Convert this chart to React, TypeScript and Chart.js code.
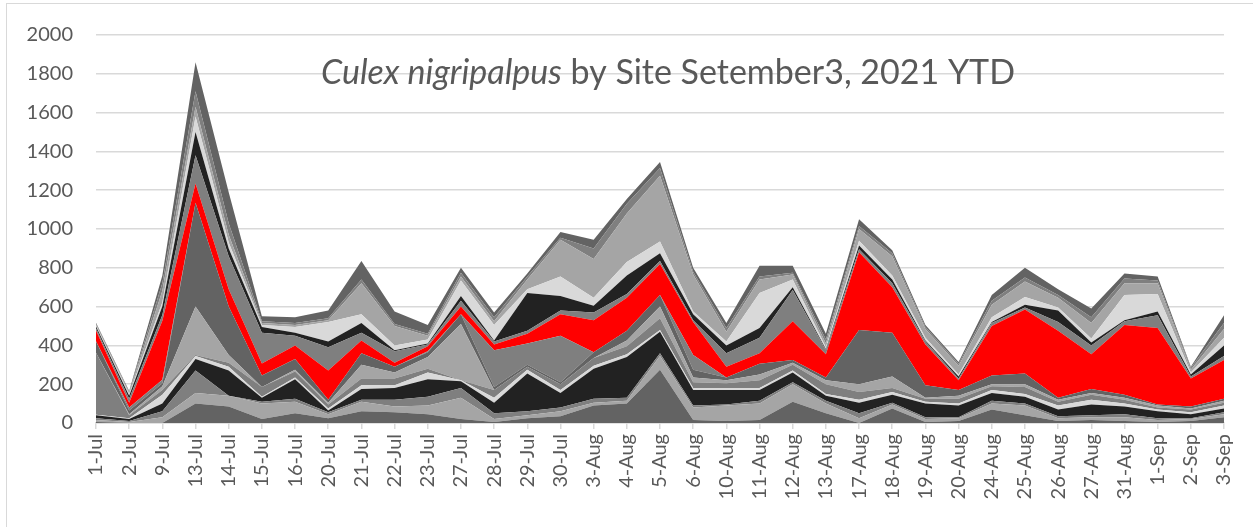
import React, { useEffect, useRef } from "react";
import { Chart, registerables } from "chart.js";

Chart.register(...registerables);

const labels = [
  "1-Jul", "2-Jul", "9-Jul", "13-Jul", "14-Jul", "15-Jul", "16-Jul", "20-Jul", "21-Jul", "22-Jul",
  "23-Jul", "27-Jul", "28-Jul", "29-Jul", "30-Jul", "3-Aug", "4-Aug", "5-Aug", "6-Aug", "10-Aug",
  "11-Aug", "12-Aug", "13-Aug", "17-Aug", "18-Aug", "19-Aug", "20-Aug", "24-Aug", "25-Aug", "26-Aug",
  "27-Aug", "31-Aug", "1-Sep", "2-Sep", "3-Sep",
];

const site01 = [5, 0, 0, 100, 85, 20, 50, 25, 60, 55, 45, 20, 5, 25, 35, 90, 100, 275, 15, 10, 15, 110, 50, 0, 75, 5, 10, 70, 40, 10, 15, 10, 5, 10, 30];
const site02 = [10, 5, 30, 55, 55, 80, 60, 20, 50, 30, 45, 110, 15, 15, 25, 15, 15, 70, 65, 80, 85, 90, 50, 25, 20, 15, 15, 30, 50, 15, 15, 20, 10, 10, 15];
const site03 = [10, 5, 30, 115, 0, 10, 15, 10, 10, 35, 45, 50, 30, 20, 20, 20, 15, 15, 10, 5, 15, 10, 15, 25, 10, 10, 5, 15, 10, 10, 10, 15, 10, 5, 10];
const site04 = [15, 10, 40, 60, 130, 20, 100, 10, 55, 60, 90, 35, 55, 195, 75, 155, 210, 110, 80, 75, 55, 50, 25, 55, 40, 70, 60, 40, 35, 35, 55, 40, 35, 20, 20];
const site05 = [2, 5, 45, 15, 20, 5, 10, 10, 20, 15, 35, 5, 25, 20, 15, 15, 15, 10, 10, 10, 10, 10, 10, 15, 15, 10, 10, 15, 15, 20, 25, 15, 10, 10, 15];
const site06 = [320, 15, 25, 5, 20, 50, 30, 20, 35, 35, 20, 0, 40, 15, 30, 40, 40, 60, 30, 25, 40, 30, 50, 40, 20, 15, 25, 20, 35, 20, 25, 20, 10, 15, 15];
const site07 = [0, 5, 20, 250, 40, 0, 10, 10, 70, 30, 60, 290, 0, 0, 0, 0, 30, 60, 25, 15, 30, 10, 20, 40, 60, 5, 15, 10, 15, 10, 10, 10, 10, 5, 10];
const site08 = [60, 20, 15, 535, 250, 60, 55, 15, 60, 30, 25, 50, 15, 10, 10, 30, 50, 60, 40, 15, 55, 15, 15, 280, 225, 65, 30, 45, 55, 10, 20, 15, 5, 10, 10];
const site09 = [0, 15, 18, 0, 0, 0, 0, 0, 0, 0, 5, 0, 190, 110, 240, 0, 0, 0, 75, 0, 0, 0, 0, 0, 0, 0, 0, 0, 0, 0, 0, 0, 0, 0, 0];
const site10 = [55, 25, 304, 100, 90, 62, 70, 150, 65, 20, 25, 40, 30, 50, 110, 165, 170, 160, 170, 55, 55, 200, 120, 400, 235, 210, 50, 255, 330, 345, 180, 360, 395, 145, 200];
const site11 = [10, 20, 30, 145, 170, 158, 50, 120, 40, 60, 10, 30, 15, 15, 20, 40, 20, 15, 10, 70, 80, 160, 20, 15, 20, 15, 10, 15, 10, 45, 45, 20, 65, 10, 20];
const site12 = [10, 15, 45, 120, 40, 30, 15, 30, 50, 5, 5, 25, 5, 195, 75, 35, 95, 40, 30, 40, 50, 15, 5, 20, 20, 5, 10, 5, 15, 60, 15, 5, 20, 10, 55];
const site13 = [5, 8, 20, 80, 30, 10, 30, 100, 45, 25, 20, 80, 80, 20, 100, 40, 70, 60, 15, 20, 180, 40, 10, 25, 20, 15, 10, 25, 40, 15, 20, 130, 90, 10, 40];
const site14 = [5, 8, 60, 50, 40, 10, 10, 10, 160, 100, 20, 20, 20, 50, 190, 200, 250, 340, 190, 50, 70, 25, 20, 60, 100, 45, 45, 65, 80, 50, 80, 60, 55, 15, 45];
const site15 = [5, 5, 40, 80, 60, 10, 10, 10, 20, 10, 10, 20, 20, 15, 10, 55, 50, 40, 15, 20, 15, 10, 20, 15, 15, 10, 10, 20, 20, 15, 30, 25, 15, 10, 30];
const site16 = [5, 4, 38, 150, 160, 25, 30, 40, 95, 65, 45, 25, 25, 15, 30, 45, 25, 30, 20, 25, 55, 35, 30, 35, 15, 10, 10, 30, 50, 30, 45, 25, 20, 5, 40];

const seriesList = [
  site01, site02, site03, site04, site05, site06, site07, site08,
  site09, site10, site11, site12, site13, site14, site15, site16,
];
const seriesNames = seriesList.map((_, i) => "Site " + (i + 1));
const seriesColors = [
  "#636363", "#a5a5a5", "#7f7f7f", "#222222", "#d9d9d9", "#7f7f7f", "#a5a5a5", "#636363",
  "#7f7f7f", "#ff0000", "#7f7f7f", "#222222", "#d9d9d9", "#a5a5a5", "#7f7f7f", "#636363",
];

const titleItalic = "Culex nigripalpus";
const titleRest = " by Site Setember3, 2021 YTD";

const FONT = "Lato, 'Open Sans', sans-serif";

const titlePlugin = {
  id: "overlayTitle",
  afterDraw(chart: any) {
    const ctx = chart.ctx;
    ctx.save();
    ctx.fillStyle = "#595959";
    ctx.textBaseline = "alphabetic";
    ctx.font = "italic 34px " + FONT;
    const w1 = ctx.measureText(titleItalic).width;
    ctx.font = "34px " + FONT;
    const w2 = ctx.measureText(titleRest).width;
    const start = 668 - (w1 + w2) / 2;
    ctx.font = "italic 34px " + FONT;
    ctx.fillText(titleItalic, start, 84);
    ctx.font = "34px " + FONT;
    ctx.fillText(titleRest, start + w1, 84);
    // outer chart border
    ctx.strokeStyle = "#d9d9d9";
    ctx.lineWidth = 1;
    ctx.strokeRect(6.5, 3.5, 1260, 540);
    ctx.restore();
  },
};

export default function App() {
  const ref = useRef<HTMLCanvasElement | null>(null);

  useEffect(() => {
    document.body.style.margin = "0";
    document.body.style.overflow = "hidden";
    const canvas = ref.current;
    if (!canvas) return;
    const chart = new Chart(canvas, {
      type: "line",
      data: {
        labels,
        datasets: seriesList.map((d, i) => ({
          label: seriesNames[i],
          data: d,
          backgroundColor: seriesColors[i],
          borderColor: seriesColors[i],
          borderWidth: 0,
          pointRadius: 0,
          tension: 0,
          fill: i === 0 ? "origin" : "-1",
        })),
      },
      options: {
        responsive: false,
        devicePixelRatio: 1,
        animation: false,
        layout: { padding: { top: 32, right: 28, left: 0, bottom: 0 } },
        plugins: {
          legend: { display: false },
          tooltip: { enabled: false },
          title: { display: false },
        },
        scales: {
          x: {
            offset: false,
            grid: { display: true, drawOnChartArea: false, drawTicks: true, tickLength: 6, color: "#d9d9d9", lineWidth: 1.5 },
            border: { display: true, color: "#d9d9d9", width: 1.5 },
            ticks: {
              autoSkip: false,
              maxRotation: 90,
              minRotation: 90,
              padding: 5,
              color: "#595959",
              font: { family: FONT, size: 20 },
            },
            afterFit: (s: any) => {
              s.height = 104;
            },
          },
          y: {
            stacked: true,
            min: 0,
            max: 2000,
            ticks: {
              stepSize: 200,
              padding: 23,
              color: "#595959",
              font: { family: FONT, size: 20 },
              callback: (v: any) => String(v),
            },
            grid: { color: "#d9d9d9", lineWidth: 1.5, drawTicks: false },
            border: { display: false },
            afterFit: (s: any) => {
              s.width = 96;
            },
          },
        },
      },
      plugins: [titlePlugin],
    });
    return () => chart.destroy();
  }, []);

  return (
    <div style={{ width: 1253, height: 527, background: "#ffffff" }}>
      <canvas ref={ref} width={1253} height={527} style={{ display: "block" }} />
    </div>
  );
}
